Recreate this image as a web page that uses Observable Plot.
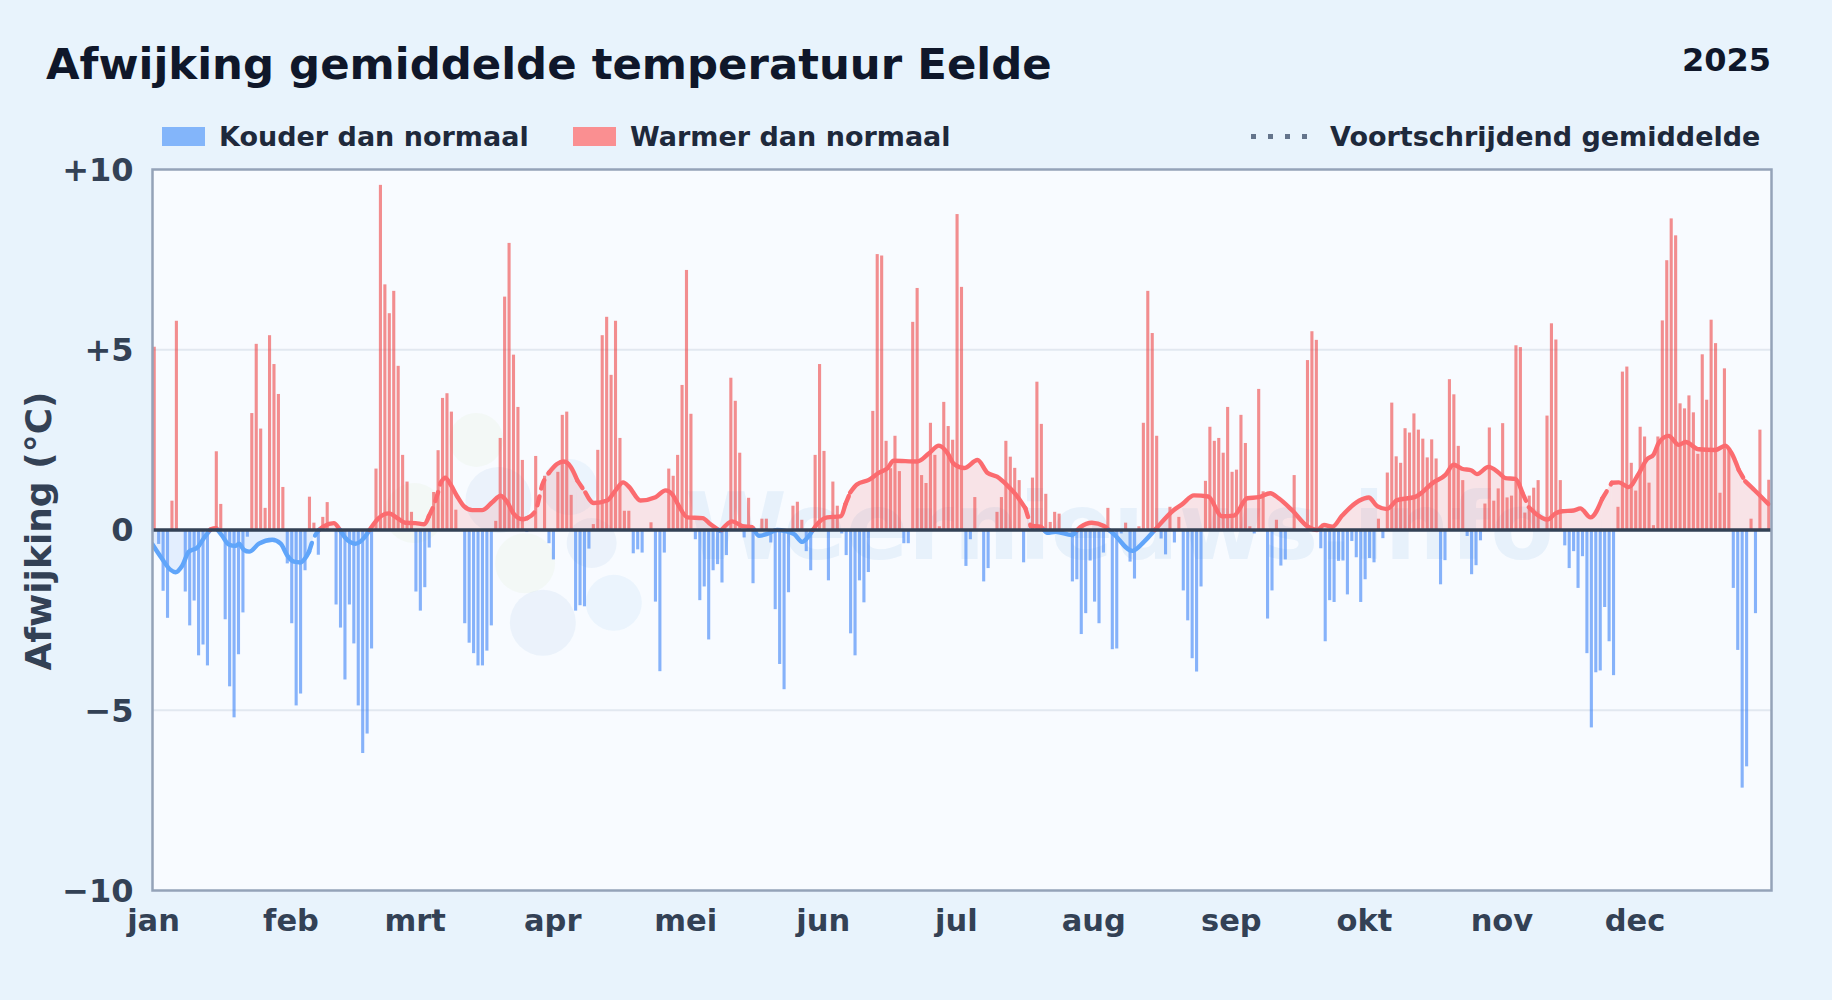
<!DOCTYPE html>
<html lang="nl">
<head>
<meta charset="utf-8">
<script src="https://cdn.jsdelivr.net/npm/d3@7"></script>
<script src="https://cdn.jsdelivr.net/npm/@observablehq/plot@0.6"></script>
<style>
html,body{margin:0;padding:0;background:#e8f3fc;}
body{position:relative;width:1832px;height:1000px;overflow:hidden;font-family:"DejaVu Sans",sans-serif;font-weight:700;}
.abs{position:absolute;white-space:nowrap;line-height:1;}
#chart{position:absolute;left:0;top:130px;}
#chart svg{overflow:visible;display:block;background:transparent;}
</style>
</head>
<body>
<div class="abs" style="left:46px;top:43px;font-size:43.4px;color:#0f172a" id="title">Afwijking gemiddelde temperatuur Eelde</div>
<div class="abs" style="right:61px;top:44px;font-size:32px;color:#0f172a" id="year">2025</div>
<div class="abs" style="left:162px;top:127px;width:43px;height:19px;background:#83b5fa"></div>
<div class="abs" style="left:219px;top:123px;font-size:27px;color:#1e293b" id="l1">Kouder dan normaal</div>
<div class="abs" style="left:573px;top:127px;width:43px;height:19px;background:#fa8f91"></div>
<div class="abs" style="left:630px;top:123px;font-size:27px;color:#1e293b" id="l2">Warmer dan normaal</div>
<div class="abs" style="left:1251px;top:134px;width:56px;height:5px;background:repeating-linear-gradient(90deg,#64748b 0 5px,transparent 5px 17px)"></div>
<div class="abs" style="left:1330px;top:123px;font-size:27px;color:#1e293b" id="l3">Voortschrijdend gemiddelde</div>
<div id="chart"></div>
<script>
const monthLabels = ["jan","feb","mrt","apr","mei","jun","jul","aug","sep","okt","nov","dec"];
const monthStarts = [0,31,59,90,120,151,181,212,243,273,304,334];
const yTicks = [-10,-5,0,5,10];

// Daily anomaly in °C, day 0 = 1 January 2025
const anomaly = [
5.07,-0.4,-1.7,-2.45,0.8,5.79,0,-1.72,-2.66,-1.97,-3.49,-3.19,-3.77,0,2.17,0.71,-2.49,-4.35,-5.21,-3.46,-2.3,-0.2,3.23,5.15,2.8,0.6,5.39,4.59,3.76,1.18,-0.94,
-2.6,-4.88,-4.55,-1.13,0.91,0.19,-0.7,0.35,0.76,0,-2.08,-2.72,-4.16,-2.08,-3.16,-4.88,-6.2,-5.66,-3.3,1.69,9.56,6.8,6.0,6.62,4.54,2.07,1.33,0.49,
-1.72,-2.25,-1.6,-0.5,1.04,2.2,3.65,3.78,3.27,0.55,0,-2.6,-3.14,-3.43,-3.77,-3.77,-3.36,-2.66,0.24,2.54,6.46,7.95,4.85,3.4,1.93,-0.07,0,2.04,0,1.49,-0.38,
-0.83,1.6,3.18,3.27,0.96,-2.25,-2.1,-2.13,-0.53,0.15,2.21,5.39,5.9,4.29,5.79,2.54,0.52,0.52,-0.66,-0.55,-0.64,0,0.2,-2.0,-3.93,-0.64,1.69,1.49,2.07,4.01,
7.2,3.21,-0.27,-1.96,-1.58,-3.05,-1.13,-0.96,-1.47,-0.71,4.21,3.57,2.13,-0.22,0.88,-1.49,0,0.3,0.3,-0.36,-2.21,-3.73,-4.43,-1.74,0.66,0.77,0.27,-0.6,-1.13,2.07,4.59,
2.18,-1.41,1.33,0.66,-0.11,-0.71,-2.88,-3.49,-1.41,-2.02,-1.18,3.29,7.64,7.6,2.46,1.7,2.6,1.62,-0.38,-0.38,5.76,6.7,1.51,1.29,2.96,2.07,0.09,3.54,2.87,2.49,
8.75,6.73,-1.01,-0.27,0.9,0,-1.44,-1.07,0,0.49,0.9,2.46,2.02,1.71,1.37,-0.91,0,1.44,4.1,2.93,0.99,0.21,0.49,0.44,0,0,-1.44,-1.38,-2.9,-2.32,-0.86,
-2.0,-2.6,-0.64,0.6,-3.32,-3.3,-0.11,0.19,-0.89,-1.36,0.09,2.96,6.62,5.45,2.6,-0.25,-0.69,0.63,-0.36,0.35,-1.69,-2.52,-3.57,-3.94,-1.58,1.35,2.85,2.46,2.54,2.13,3.4,
1.6,1.66,3.18,2.4,0.09,-0.11,3.9,1.06,-2.47,-1.69,0.27,-1.0,-0.83,0,1.51,0,0,4.7,5.5,5.26,-0.52,-3.1,-1.96,-2.01,-0.87,-0.86,-1.8,-0.32,-0.77,-2.01,
-1.38,-0.79,-0.91,0.3,-0.24,1.58,3.52,2.03,1.85,2.81,2.69,3.22,2.77,2.52,2.0,2.5,1.97,-1.52,-0.85,4.17,3.75,2.32,1.37,-0.18,-1.24,-0.99,-0.3,0.72,2.83,0.8,1.14,
2.95,0.89,0.94,5.11,5.06,0.47,0.94,1.16,1.37,0,3.16,5.72,5.27,1.37,-0.44,-1.07,-0.6,-1.62,-0.74,-3.43,-5.49,-3.96,-3.91,-2.15,-3.1,-4.04,0.63,4.38,4.52,1.85,
1.08,2.85,2.58,1.3,0.12,2.58,5.8,7.47,8.63,8.16,3.5,3.36,3.72,3.25,2.1,4.86,3.6,5.82,5.17,1.02,4.47,2.2,-1.62,-3.34,-7.16,-6.57,0.3,-2.32,2.77,0,1.38
];

// Moving average
const meanDays = [0,2,4,5.2,6.7,8.2,10.1,11.6,13.1,14.4,15.7,17.2,18.7,19.5,20.6,21.8,24,27,28.9,30.4,31.9,33.4,34.5,35.3,36.2,37.5,38.7,40.9,42,43.5,45.8,47.7,49.2,51,53.3,55.2,57,59.3,61.2,62.3,63.5,65,66,67.2,68.7,70.2,72.1,74.3,76.6,78.5,80,81.5,83.4,84.5,86.4,87.9,89.4,91.2,92.7,94.3,95.8,97.6,99.5,102.5,104.4,106.1,107.4,110,113.4,115.7,117.2,118.7,120.6,124,125.8,128,130.7,133,135.2,136.7,138.6,140.8,144.6,146.5,148,149.5,152.1,155.1,156.2,157.3,158.8,161.5,163.8,165.6,167.1,172.4,175,177.3,179.2,180.7,183,186,188.2,190.4,192.7,194.6,196.8,198,200.2,201.7,203.6,207.3,209.2,211.8,214.5,216.7,220.9,223.5,226.1,230.2,232.1,234.8,238,241.1,243.8,246.8,249.4,252,253.9,256.9,260.5,262.6,264.1,266,268.2,272,274.2,276.1,278.3,280.6,284.7,288.8,291.5,293.3,295.2,297.4,298.6,301.2,303.5,305,307.2,308.8,310.3,311.8,314.5,316.3,317.8,320.4,321.9,324.2,326.8,329,330.6,332.8,335,336.9,338.4,339.6,341.8,344.1,345.6,348.6,352.3,354.6,356,357.6,359.1,361.3,364.3];
const meanValues = [-0.4,-0.77,-1.1,-1.17,-0.99,-0.6,-0.49,-0.22,0.02,0.05,-0.16,-0.4,-0.44,-0.38,-0.55,-0.6,-0.38,-0.27,-0.38,-0.71,-0.88,-0.9,-0.77,-0.6,-0.27,0,0.11,0.19,0.05,-0.22,-0.38,-0.22,0.05,0.33,0.46,0.33,0.2,0.19,0.16,0.38,0.71,1.32,1.45,1.26,0.93,0.66,0.55,0.55,0.77,0.95,0.77,0.44,0.3,0.33,0.55,1.26,1.59,1.83,1.9,1.75,1.37,1.04,0.75,0.82,1.1,1.32,1.2,0.82,0.91,1.1,0.99,0.66,0.35,0.33,0.16,-0.03,0.24,0.11,0.08,-0.16,-0.11,0,-0.11,-0.33,-0.16,0.11,0.35,0.38,0.71,1.04,1.26,1.39,1.59,1.7,1.92,1.9,2.12,2.34,2.14,1.83,1.72,1.94,1.59,1.48,1.24,0.99,0.6,0.11,0.09,-0.08,-0.05,-0.14,0.08,0.2,0.11,-0.11,-0.58,-0.33,0.02,0.55,0.71,0.96,0.93,0.38,0.4,0.88,0.91,1.02,0.88,0.55,0.09,0,0.14,0.09,0.4,0.81,0.9,0.66,0.58,0.83,0.92,1.32,1.53,1.81,1.7,1.65,1.55,1.75,1.59,1.44,1.42,1.04,0.63,0.46,0.29,0.46,0.52,0.54,0.6,0.35,0.86,1.31,1.32,1.19,1.55,1.96,2.09,2.42,2.61,2.36,2.44,2.24,2.22,2.34,2.13,1.67,1.35,1.09,0.72];
const dashedSpans = [[35,38],[62,65.2],[85,90],[96,98],[156,158],[197,198.5],[309,311],[326,328],[357,360]];

const logoDays = [73,59,84,78,94,88,104,99];
const logoLevels = [2.5,0.47,-0.92,0.83,1.19,-2.57,-2.02,-0.36];
const logoRadii = [27,30,30,33,28,33,28,25];
const logoColors = ["#dcebc4","#dcebc4","#dcebc4","#a9c4e4","#a9d2f2","#a9c4e4","#a9d2f2","#a9c4e4"];
const logoMarks = logoDays.map((d,i)=>({d,v:logoLevels[i],r:logoRadii[i],c:logoColors[i]}));

const bars = anomaly.map((v,i)=>({i,v})).filter(d=>d.v!==0);
const spanOf = x => dashedSpans.some(([a,b])=>x>=a&&x<b);

// split the line at zero crossings and style changes
const pts = [];
meanDays.forEach((x,i)=>{
  const y = meanValues[i];
  if(i>0){
    const px = meanDays[i-1], py = meanValues[i-1];
    if(py*y<0) pts.push({x:px+(x-px)*(-py)/(y-py),y:0});
  }
  pts.push({x,y});
});
const lineRows = [];
let seg = 0, lastKey = null;
for(let i=1;i<pts.length;i++){
  const a=pts[i-1], b=pts[i], m=(a.x+b.x)/2, my=(a.y+b.y)/2;
  const key=(my>=0?"p":"n")+(spanOf(m)?"d":"s");
  if(key!==lastKey){ seg++; lastKey=key; lineRows.push({x:a.x,y:a.y,seg,key}); }
  lineRows.push({x:b.x,y:b.y,seg,key});
}
const lineColor = k => k[0]==="p" ? "#fb6b6f" : "#60a5fa";

const chart = Plot.plot({
  width:1832, height:870,
  marginLeft:152, marginRight:61, marginTop:39, marginBottom:110,
  style:{background:"transparent",fontFamily:"'DejaVu Sans',sans-serif",fontWeight:700},
  x:{type:"linear",domain:[0,365]},
  y:{domain:[-10,10]},
  r:{type:"identity"},
  marks:[
    Plot.frame({fill:"#f8fbff",stroke:null}),
    Plot.dot(logoMarks,{x:"d",y:"v",r:"r",fill:"c",fillOpacity:0.16,stroke:null}),
    Plot.text(["Weernieuws.info"],{x:[218],y:[0],text:d=>d,fontSize:92,fontWeight:700,fill:"#bcd8f2",fillOpacity:0.28}),
    Plot.ruleY([-5,5],{stroke:"#e2e8f0",strokeWidth:2}),
    Plot.rectY(bars,{x1:d=>d.i+0.15,x2:d=>d.i+0.85,y1:0,y2:"v",fill:d=>d.v>0?"#ef4444":"#3b82f6",fillOpacity:0.6,clip:"frame"}),
    Plot.areaY(lineRows.filter(d=>d.key[0]==="p"),{x:"x",y1:0,y2:"y",z:"seg",fill:"#f87171",fillOpacity:0.17,curve:"monotone-x"}),
    Plot.areaY(lineRows.filter(d=>d.key[0]==="n"),{x:"x",y1:0,y2:"y",z:"seg",fill:"#60a5fa",fillOpacity:0.14,curve:"monotone-x"}),
    Plot.line(lineRows.filter(d=>d.key[1]==="s"),{x:"x",y:"y",z:"seg",stroke:d=>lineColor(d.key),strokeWidth:4.4,curve:"monotone-x",clip:"frame"}),
    Plot.line(lineRows.filter(d=>d.key[1]==="d"),{x:"x",y:"y",z:"seg",stroke:d=>lineColor(d.key),strokeWidth:4.4,strokeDasharray:"9,8",curve:"monotone-x",clip:"frame"}),
    Plot.ruleY([0],{stroke:"#334155",strokeWidth:3.4}),
    Plot.frame({stroke:"#94a3b8",strokeWidth:2.5,fill:"none"}),
    Plot.axisY({ticks:yTicks,tickSize:0,tickPadding:19,fontSize:32,fill:"#334155",dy:1,
      tickFormat:d=>d>0?`+${d}`:d<0?`\u2212${-d}`:"0",label:null}),
    Plot.axisX({ticks:monthStarts,tickSize:0,tickPadding:18,fontSize:30.5,fill:"#334155",dx:1,dy:1,
      tickFormat:d=>monthLabels[monthStarts.indexOf(d)],label:null}),
    Plot.text(["Afwijking (°C)"],{frameAnchor:"left",textAnchor:"middle",dx:-113,dy:1,rotate:-90,text:d=>d,fontSize:36,fontWeight:700,fill:"#334155"})
  ]
});
document.getElementById("chart").appendChild(chart);
</script>
</body>
</html>
